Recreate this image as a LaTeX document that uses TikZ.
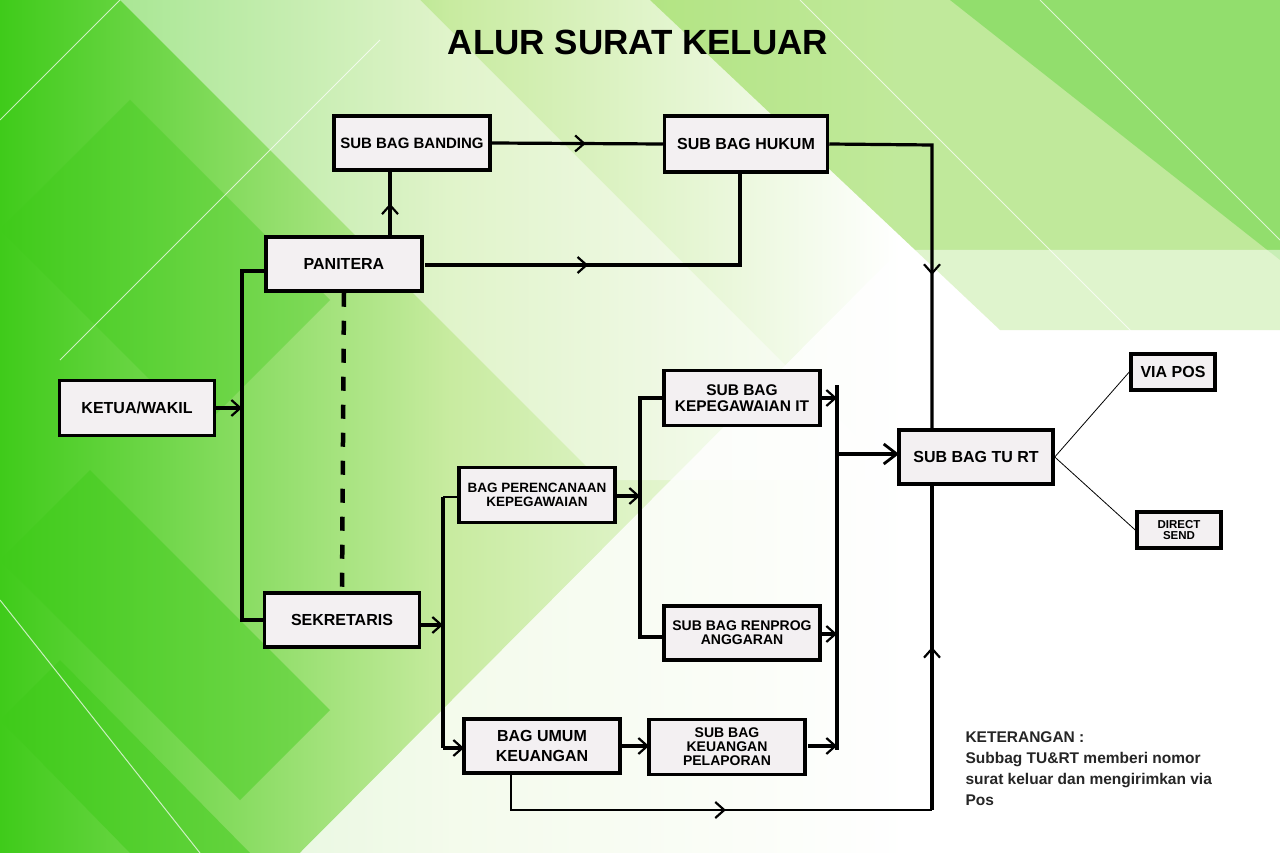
\documentclass[tikz,border=0pt]{standalone}
\usepackage{fontspec}
\setmainfont{Liberation Sans}
\usetikzlibrary{arrows.meta,decorations.markings}
\definecolor{gA}{HTML}{3FCB1A}
\definecolor{gB}{HTML}{8ED84A}
\definecolor{gC}{HTML}{C8EBA0}
\definecolor{boxfill}{HTML}{F3F0F2}
\tikzset{
  box/.style={draw=black,line width=3.5pt,fill=boxfill,align=center,font=\bfseries\fontsize{16}{16}\selectfont,inner sep=2pt},
  ln/.style={line width=3.2pt},
  thin/.style={line width=1.6pt},
  tip/.style={-{Straight Barb[length=9pt,width=16pt,line width=2.2pt]}},
  midarr/.style={decoration={markings,mark=at position #1 with {\arrow[line width=2.2pt]{Straight Barb[length=9pt,width=16pt]}}},postaction={decorate}}
}
\begin{document}
\begin{tikzpicture}[x=1pt,y=-1pt]
\useasboundingbox (0,0) rectangle (1280,853);
% background
\fill[white] (0,0) rectangle (1280,853);
\shade[shading angle=135,left color=gA,right color=white,middle color=gC] (0,0) rectangle (900,853);
\fill[white,opacity=0.6] (300,853) -- (900,250) -- (1280,250) -- (1280,853) -- cycle;
\fill[gB,opacity=0.55] (650,0) -- (1280,0) -- (1280,330) -- (1000,330) -- cycle;
\fill[gA,opacity=0.35] (950,0) -- (1280,0) -- (1280,260) -- cycle;
\fill[white,opacity=0.45] (120,0) -- (420,0) -- (900,480) -- (600,480) -- cycle;
\fill[gA,opacity=0.35] (0,230) -- (130,100) -- (330,300) -- (200,430) -- cycle;
\fill[gA,opacity=0.45] (0,560) -- (90,470) -- (330,710) -- (240,800) -- cycle;
\fill[gA,opacity=0.5] (0,720) -- (60,660) -- (250,853) -- (130,853) -- cycle;
\fill[white,opacity=0.5] (300,853) -- (900,250) -- (1280,250) -- (1280,853) -- cycle;
\draw[white,opacity=0.7,line width=1pt] (0,120) -- (120,0) (60,360) -- (380,40) (800,0) -- (1280,480) (1040,0) -- (1280,240) (0,600) -- (200,853);
% title
\node[font=\bfseries\fontsize{35}{35}\selectfont] (title) at (638,42) {ALUR SURAT KELUAR};
% boxes
\node[box,minimum width=156pt,minimum height=54pt,font=\bfseries\fontsize{15}{15}\selectfont] (band) at (412,143) {SUB BAG BANDING};
\node[box,minimum width=163pt,minimum height=56pt] (hukum) at (746,144) {SUB BAG HUKUM};
\node[box,minimum width=156pt,minimum height=54pt] (pan) at (344,264) {PANITERA};
\node[box,minimum width=155pt,minimum height=55pt] (ketua) at (137,408) {KETUA/WAKIL};
\node[box,minimum width=155pt,minimum height=54pt] (sek) at (342,620) {SEKRETARIS};
\node[box,minimum width=156pt,minimum height=55pt,font=\bfseries\fontsize{15.5}{16}\selectfont] (kepit) at (742,398) {SUB BAG\\KEPEGAWAIAN IT};
\node[box,minimum width=156pt,minimum height=55pt,font=\bfseries\fontsize{13.5}{13.5}\selectfont] (renc) at (537,495) {BAG PERENCANAAN\\KEPEGAWAIAN};
\node[box,minimum width=156pt,minimum height=54pt,font=\bfseries\fontsize{14}{14}\selectfont] (renp) at (742,633) {SUB BAG RENPROG\\ANGGARAN};
\node[box,minimum width=156pt,minimum height=54pt,font=\bfseries\fontsize{16}{20}\selectfont] (umum) at (542,746) {BAG UMUM\\KEUANGAN};
\node[box,minimum width=156pt,minimum height=55pt,font=\bfseries\fontsize{14}{14}\selectfont] (keu) at (727,747) {SUB BAG\\KEUANGAN\\PELAPORAN};
\node[box,minimum width=154pt,minimum height=54pt] (tu) at (976,457) {SUB BAG TU RT};
\node[box,minimum width=84pt,minimum height=36pt] (pos) at (1173,372) {VIA POS};
\node[box,minimum width=84pt,minimum height=36pt,font=\bfseries\fontsize{11.5}{11.5}\selectfont] (dir) at (1179,530) {DIRECT\\SEND};
\node[anchor=north west,align=left,font=\bfseries\fontsize{15.5}{21}\selectfont,text=black!85] (ket) at (962,728) {KETERANGAN :\\Subbag TU\&RT memberi nomor\\surat keluar dan mengirimkan via\\Pos};
% connectors
\coordinate (kx) at (242,408);
\draw[ln,tip] (ketua.east) -- (kx);
\draw[ln] (266,271) -- (242,271) -- (242,620) -- (265,620);
\draw[ln,midarr=0.5] (390,237) -- (390,170);
\draw[line width=4.5pt,dash pattern=on 14pt off 14pt] (pan.south) -- (sek.north);
\draw[ln,midarr=0.55] (band.east) -- (hukum.west);
\draw[ln,midarr=0.4] (425,265) -- (740,265) -- (740,172);
\draw[ln,midarr=0.6] (hukum.east) -- (932,145) -- (932,430);
% sekretaris branch
\draw[ln,tip] (420,625) -- (443,625);
\draw[ln] (443,497) -- (443,748);
\draw[thin] (443,497) -- (459,497);
\draw[ln,tip] (443,748) -- (464,748);
\draw[ln,tip] (615,496) -- (640,496);
\draw[ln] (664,398) -- (640,398) -- (640,637) -- (664,637);
\draw[ln,tip] (620,746) -- (649,746);
% right collector
\draw[ln,tip] (820,398) -- (837,398);
\draw[ln,tip] (820,634) -- (837,634);
\draw[ln,tip] (808,746) -- (837,746);
\draw[ln] (837,385) -- (837,750);
\draw[ln,-{Straight Barb[length=13pt,width=20pt,line width=2.8pt]}] (837,454) -- (899,454);
% bottom loop
\draw[thin,midarr=0.55] (511,773) -- (511,810) -- (932,810);
\draw[ln,midarr=0.5] (932,810) -- (932,484);
% outputs
\draw[line width=0.8pt] (tu.east) -- (pos.west);
\draw[line width=0.8pt] (tu.east) -- (dir.west);
\end{tikzpicture}
\end{document}
